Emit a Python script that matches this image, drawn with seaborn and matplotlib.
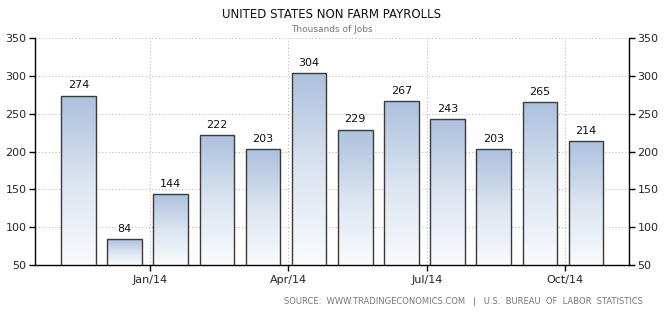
import numpy as np
import pandas as pd
import matplotlib
matplotlib.use("Agg")
import matplotlib.pyplot as plt
import seaborn as sns
from matplotlib.colors import LinearSegmentedColormap

months = ["Nov/13", "Dec/13", "Jan/14", "Feb/14", "Mar/14", "Apr/14",
          "May/14", "Jun/14", "Jul/14", "Aug/14", "Sep/14", "Oct/14"]
payrolls = [274, 84, 144, 222, 203, 304, 229, 267, 243, 203, 265, 214]
tick_labels = ["Jan/14", "Apr/14", "Jul/14", "Oct/14"]
tick_months = [2, 5, 8, 11]

df = pd.DataFrame({"month": months, "value": payrolls})

sns.set_style("white")
plt.rcParams['font.family'] = ['DejaVu Sans']

fig = plt.figure(figsize=(6.64, 3.18), dpi=100)
ax = fig.add_axes([35/664, 1-265/318, (629-35)/664, (265-38)/318])

sns.barplot(data=df, x="month", y="value", ax=ax, color="#b4c6df",
            width=0.75, edgecolor="#3a3a3a", linewidth=1.0, zorder=3)

ax.set_xlim(-0.94, 11.93)
ax.set_ylim(50, 350)

# gradient fill in each bar (own-height gradient)
grad = np.linspace(0, 1, 64).reshape(-1, 1)
cmap = LinearSegmentedColormap.from_list("g", ["#f9fbfe", "#dbe4f0", "#adc1de"])
for p in ax.patches:
    x0 = p.get_x()
    w = p.get_width()
    top = p.get_y() + p.get_height()
    p.set_facecolor("none")
    im = ax.imshow(grad, extent=[x0, x0 + w, 50, top], origin="lower",
                   aspect="auto", cmap=cmap, vmin=0, vmax=1,
                   interpolation="bilinear", zorder=2.5)
    im.set_clip_path(p)
ax.set_xlim(-0.94, 11.93)
ax.set_ylim(50, 350)

for i, v in enumerate(payrolls):
    ax.text(i, v + 7, str(v), ha="center", va="bottom", fontsize=8, color="#111111", zorder=4)

tpos = [m - 0.45 for m in tick_months]
ax.set_xticks(tpos)
ax.set_xticklabels(tick_labels, fontsize=8)
ax.set_yticks(range(50, 351, 50))
ax.tick_params(axis="y", labelsize=8, length=4, width=1, color="black",
               left=True, right=True, labelleft=True, labelright=True, pad=2)
ax.tick_params(axis="x", length=4, width=1, color="black", bottom=True, pad=3)
ax.set_xlabel("")
ax.set_ylabel("")

ax.grid(True, axis="both", linestyle=(0, (1, 2)), color="#bbbbbb", linewidth=0.8, zorder=0)
ax.set_axisbelow(True)

for s in ["left", "right", "bottom"]:
    ax.spines[s].set_visible(True)
    ax.spines[s].set_color("black")
    ax.spines[s].set_linewidth(1)
ax.spines["top"].set_visible(False)

fig.text(332/664, 1-15/318, "UNITED STATES NON FARM PAYROLLS", ha="center", va="center",
         fontsize=8.5, color="#111111")
fig.text(332/664, 1-30/318, "Thousands of Jobs", ha="center", va="center",
         fontsize=6.5, color="#777777")
fig.text(643/664, 1-302/318,
         "SOURCE:  WWW.TRADINGECONOMICS.COM   |   U.S.  BUREAU  OF  LABOR  STATISTICS",
         ha="right", va="center", fontsize=6, color="#777777")

fig.savefig("out.png", dpi=100)
